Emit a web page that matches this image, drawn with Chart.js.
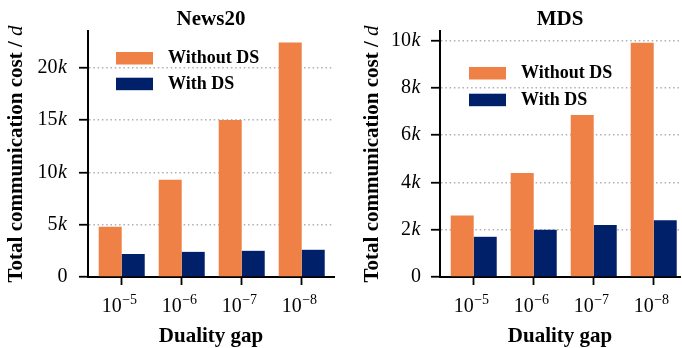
<!DOCTYPE html>
<html><head><meta charset="utf-8">
<script src="https://cdn.jsdelivr.net/npm/chart.js@4.4.1/dist/chart.umd.min.js"></script>
<style>
html,body{margin:0;padding:0;background:#fff;}
#wrap{position:relative;width:682px;height:348px;background:#fff;}
.c{position:absolute;top:0;width:341px;height:348px;}
</style></head><body>
<div id="wrap"><div class="c" style="left:0"><canvas id="a"></canvas></div><div class="c" style="left:341px"><canvas id="b"></canvas></div></div>
<script>
// ---- data ----
const categories = ['10^\u22125', '10^\u22126', '10^\u22127', '10^\u22128'];
const seriesNames = ['Without DS', 'With DS'];
const news20Without = [4800, 9300, 15000, 22400];
const news20With = [2200, 2400, 2500, 2600];
const mdsWithout = [2600, 4400, 6850, 9900];
const mdsWith = [1700, 2000, 2200, 2400];
const news20YTicks = [0, 5000, 10000, 15000, 20000];
const news20YLabels = ['0', '5k', '10k', '15k', '20k'];
const mdsYTicks = [0, 2000, 4000, 6000, 8000, 10000];
const mdsYLabels = ['0', '2k', '4k', '6k', '8k', '10k'];
const titles = ['News20', 'MDS'];
const xTitle = 'Duality gap';
const yTitle = 'Total communication cost / ';
const yTitleItalic = 'd';

const ORANGE = '#EF8146';
const NAVY = '#00216A';
const SERIF = '"Liberation Serif","Times New Roman","DejaVu Serif",serif';

const decor = {
  id: 'decor',
  afterDraw(chart, args, o) {
    const ctx = chart.ctx, ca = chart.chartArea, x = chart.scales.x, y = chart.scales.y;
    ctx.save();
    ctx.fillStyle = '#000';
    // title
    ctx.font = `bold 21px ${SERIF}`;
    ctx.textAlign = 'center';
    ctx.textBaseline = 'alphabetic';
    ctx.fillText(o.title, (ca.left + ca.right) / 2, 25);
    // y tick labels
    ctx.textAlign = 'left';
    ctx.textBaseline = 'middle';
    o.yLabels.forEach((lab, i) => {
      const py = y.getPixelForValue(o.yTicks[i]);
      const right = ca.left - o.yLabelGap;
      let main = lab, it = '';
      if (lab.endsWith('k')) { main = lab.slice(0, -1); it = 'k'; }
      ctx.font = `20px ${SERIF}`;
      const wm = ctx.measureText(main).width;
      ctx.font = `italic 20px ${SERIF}`;
      const wi = it ? ctx.measureText(it).width + 1 : 0;
      ctx.font = `20px ${SERIF}`;
      ctx.fillText(main, right - wm - wi, py);
      if (it) { ctx.font = `italic 20px ${SERIF}`; ctx.fillText(it, right - wi + 0.5, py); }
    });
    // x tick labels
    ctx.textBaseline = 'alphabetic';
    categories.forEach((lab, i) => {
      const [base, exp] = lab.split('^');
      const px = x.getPixelForValue(i);
      ctx.font = `20px ${SERIF}`;
      const wb = ctx.measureText(base).width;
      ctx.font = `14px ${SERIF}`;
      const we = ctx.measureText(exp).width;
      const start = px - wb;
      ctx.font = `20px ${SERIF}`;
      ctx.fillText(base, start, ca.bottom + 34.5);
      ctx.font = `14px ${SERIF}`;
      ctx.fillText(exp, px + 0.5, ca.bottom + 26.5);
    });
    // x title
    ctx.textAlign = 'center';
    ctx.font = `bold 21px ${SERIF}`;
    ctx.fillText(xTitle, (ca.left + ca.right) / 2, ca.bottom + 65);
    // y title (rotated)
    ctx.save();
    ctx.translate(ca.left - o.yTitleOffset, (ca.top + ca.bottom) / 2);
    ctx.rotate(-Math.PI / 2);
    ctx.font = `bold 21px ${SERIF}`;
    const w1 = ctx.measureText(yTitle).width;
    ctx.font = `italic 21px ${SERIF}`;
    const w2 = ctx.measureText(yTitleItalic).width;
    ctx.textAlign = 'left';
    ctx.font = `bold 21px ${SERIF}`;
    ctx.fillText(yTitle, -(w1 + w2) / 2, 0);
    ctx.font = `italic 21px ${SERIF}`;
    ctx.fillText(yTitleItalic, -(w1 + w2) / 2 + w1, 0);
    ctx.restore();
    // legend
    ctx.textBaseline = 'middle';
    ctx.textAlign = 'left';
    ctx.font = `bold 18px ${SERIF}`;
    chart.data.datasets.forEach((ds, i) => {
      const bx = ca.left + o.legX, by = ca.top + o.legY + i * o.legStep;
      ctx.fillStyle = ds.backgroundColor;
      ctx.fillRect(bx, by, 37, 12.5);
      ctx.fillStyle = '#000';
      ctx.fillText(ds.label, bx + 52, by + 6.5);
    });
    ctx.restore();
  }
};

function toPoints(values) {
  return values.map((v, i) => ({ x: i, y: v }));
}

function makeChart(id, withoutData, withData, yTicks, yLabels, yMax, opts) {
  return new Chart(document.getElementById(id), {
    type: 'bar',
    data: {
      datasets: [
        { label: seriesNames[0], data: toPoints(withoutData), backgroundColor: ORANGE, borderWidth: 0 },
        { label: seriesNames[1], data: toPoints(withData), backgroundColor: NAVY, borderWidth: 0 }
      ]
    },
    options: {
      responsive: true,
      maintainAspectRatio: false,
      animation: false,
      categoryPercentage: 0.767,
      barPercentage: 1.0,
      layout: { padding: { top: 31, right: opts.padRight, left: 0, bottom: 0 } },
      plugins: {
        legend: { display: false },
        title: { display: false },
        tooltip: { enabled: false },
        decor: {
          title: opts.title, yTicks: yTicks, yLabels: yLabels, yLabelGap: opts.yLabelGap,
          yTitleOffset: opts.yTitleOffset, legX: opts.legX, legY: opts.legY, legStep: opts.legStep
        }
      },
      scales: {
        x: {
          type: 'linear',
          min: opts.xMin,
          max: opts.xMax,
          offset: false,
          z: 1,
          grid: { offset: false, drawOnChartArea: false, drawTicks: true, tickLength: 8, tickColor: '#000', tickWidth: 1.8 },
          border: { display: true, color: '#000', width: 2 },
          ticks: { display: false },
          afterBuildTicks(s) { s.ticks = categories.map((c, i) => ({ value: i })); },
          afterFit(s) { s.height = 71; }
        },
        y: {
          type: 'linear',
          min: 0,
          max: yMax,
          grid: {
            color: (c) => (c.tick && c.tick.value === 0) ? 'rgba(0,0,0,0)' : '#B0B0B0',
            lineWidth: 1.5,
            tickBorderDash: [],
            tickColor: '#000',
            tickWidth: 1.8,
            tickLength: 9,
            drawTicks: true
          },
          border: { display: true, color: '#000', width: 2, dash: [1.5, 2.8] },
          ticks: { display: false },
          afterBuildTicks(s) { s.ticks = yTicks.map(v => ({ value: v })); },
          afterFit(s) { s.width = opts.axisLeft; }
        }
      }
    },
    plugins: [decor]
  });
}

makeChart('a', news20Without, news20With, news20YTicks, news20YLabels, 23500,
  { title: titles[0], padRight: 7, axisLeft: 88, yLabelGap: 20.5, yTitleOffset: 66, legX: 28, legY: 21, legStep: 25.7, xMin: -0.562, xMax: 3.538 });
makeChart('b', mdsWithout, mdsWith, mdsYTicks, mdsYLabels, 10400,
  { title: titles[1], padRight: 2, axisLeft: 99, yLabelGap: 19, yTitleOffset: 62, legX: 29, legY: 36, legStep: 26.7, xMin: -0.562, xMax: 3.438 });
</script>
</body></html>
